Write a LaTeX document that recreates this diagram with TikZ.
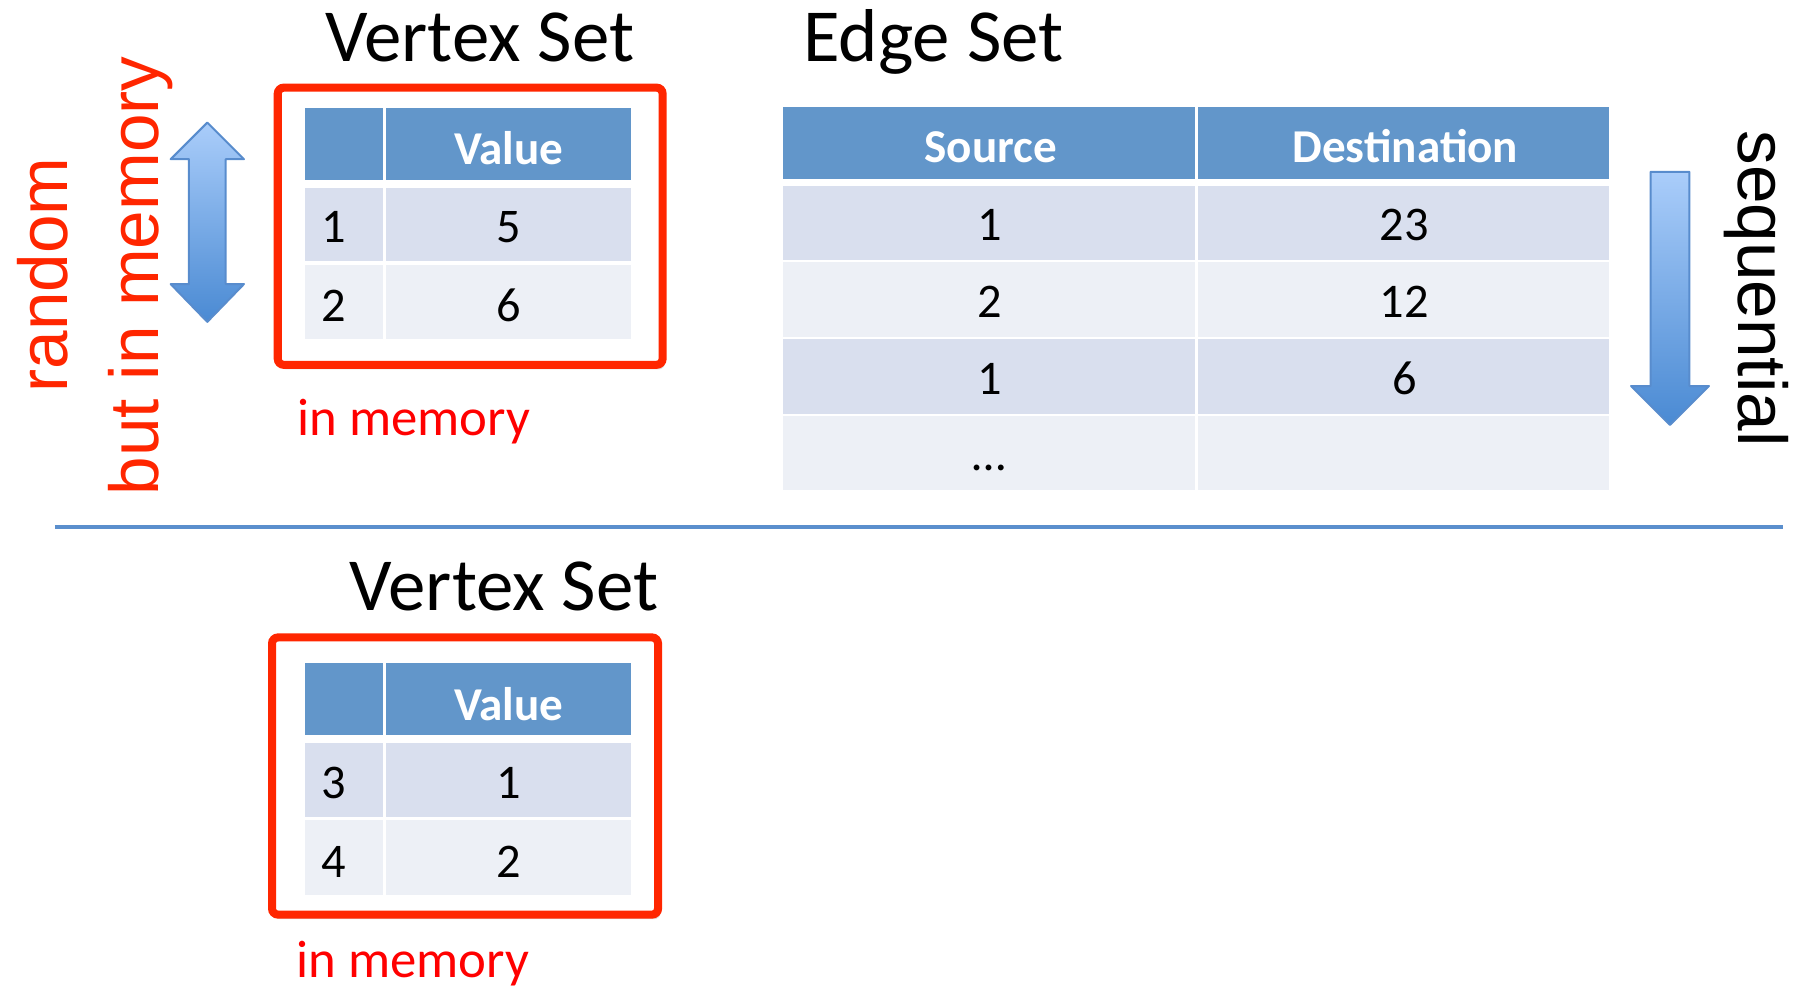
\documentclass[tikz,border=0pt]{standalone}
\usepackage{tkz-euclide}
\usepackage{tikz}
\usepackage{fontspec}
\setmainfont{Carlito}
\newfontfamily\arialfont{Liberation Sans}
\usetikzlibrary{shadows}

\definecolor{hdblue}{RGB}{98,150,202}
\definecolor{rowdark}{RGB}{217,223,238}
\definecolor{rowlight}{RGB}{237,240,246}
\definecolor{boxred}{RGB}{255,38,0}
\definecolor{linblue}{RGB}{91,143,205}
\definecolor{arrtop}{RGB}{170,205,250}
\definecolor{arrbot}{RGB}{74,138,211}
\definecolor{arrline}{RGB}{88,140,205}

\tikzset{
  title/.style={anchor=base, inner sep=0pt, font=\fontsize{18.6}{20}\selectfont},
  hd/.style={anchor=base, inner sep=0pt, text=white, font=\fontsize{11.7}{13}\selectfont\bfseries},
  num/.style={anchor=base, inner sep=0pt, font=\fontsize{12}{13}\selectfont},
  note/.style={anchor=base west, inner sep=0pt, text=red, font=\fontsize{13.1}{15}\selectfont},
  side/.style={anchor=base, inner sep=0pt, font=\arialfont\fontsize{17.2}{19}\selectfont},
  redbox/.style={draw=boxred, line width=2pt, rounded corners=1.5pt, fill=white,
    drop shadow={opacity=0.25, fill=black!50, shadow xshift=0.02cm, shadow yshift=-0.04cm}},
  blockarrow/.style={draw=arrline, line width=0.5pt, top color=arrtop, bottom color=arrbot}
}

\begin{document}
\begin{tikzpicture}[x=0.01cm, y=-0.01cm]
    \useasboundingbox (0,0) rectangle (1568,860);
    % TITOLI
    \node[title] (vt1) at (419,54) {Vertex Set};
    \node[title] (et) at (815,54) {Edge Set};
    \node[title] (vt2) at (440,533) {Vertex Set};
    % RIQUADRI
    \draw[redbox] (242.5,76.5) rectangle (578.5,318.5);
    \draw[redbox] (237.5,556.5) rectangle (574.5,798.5);
    % TABELLE VERTICI
    \foreach \dy/\ra/\va/\rb/\vb in {0/1/5/2/6,485/3/1/4/2}{
      \begin{scope}[shift={(0,\dy)}]
        \fill[hdblue] (266,94) rectangle (334,157);
        \fill[hdblue] (337,94) rectangle (551,157);
        \fill[rowdark] (266,164) rectangle (334,228);
        \fill[rowdark] (337,164) rectangle (551,228);
        \fill[rowlight] (266,231) rectangle (334,296);
        \fill[rowlight] (337,231) rectangle (551,296);
        \node[hd] (val\ra) at (444,144) {Value};
        \node[num, anchor=base west] (id\ra) at (280,212) {\ra};
        \node[num] (v\ra) at (444,212) {\va};
        \node[num, anchor=base west] (id\rb) at (280,281) {\rb};
        \node[num] (v\rb) at (444,281) {\vb};
      \end{scope}}
    \node[note] (mem1) at (259,380) {in memory};
    \node[note] (mem2) at (258,853) {in memory};
    % TABELLA ARCHI
    \fill[hdblue] (684,93) rectangle (1043,156);
    \fill[hdblue] (1046,93) rectangle (1405,156);
    \node[hd] (src) at (865,142) {Source};
    \node[hd] (dst) at (1227,142) {Destination};
    \foreach \i/\s/\d/\c in {0/1/23/rowdark,1/2/12/rowlight,2/1/6/rowdark,3/…/{}/rowlight}{
      \fill[\c] (684,{162+67*\i}) rectangle (1043,{227+67*\i});
      \fill[\c] (1046,{162+67*\i}) rectangle (1405,{227+67*\i});
      \node[num] (s\i) at (864,{210+67*\i}) {\s};
      \node[num] (d\i) at (1226,{210+67*\i}) {\d};
    }
    % FRECCE
    \tkzDefPoints{181/107/A,213/139/B,197/139/C,197/248/D,213/248/E,181/281/F,149/248/G,165/248/H,165/139/I,149/139/J}
    \tkzDrawPolygon[blockarrow](A,...,J)
    \tkzDefPoints{1441/150/K,1475/150/L,1475/337/M,1492/337/N,1458/371/O,1424/337/P,1441/337/Q}
    \tkzDrawPolygon[blockarrow](K,...,Q)
    % SCRITTE LATERALI
    \node[side, rotate=90, text=boxred] (rnd) at (59,240) {random};
    \node[side, rotate=90, text=boxred] (bim) at (138,241) {but in memory};
    \node[side, rotate=-90] (seq) at (1518,252) {sequential};
    % SEPARATORE
    \coordinate (L) at (48,460);
    \coordinate (R) at (1557,460);
    \draw[linblue, line width=1.14pt] (L) -- (R);
\end{tikzpicture}
\end{document}
